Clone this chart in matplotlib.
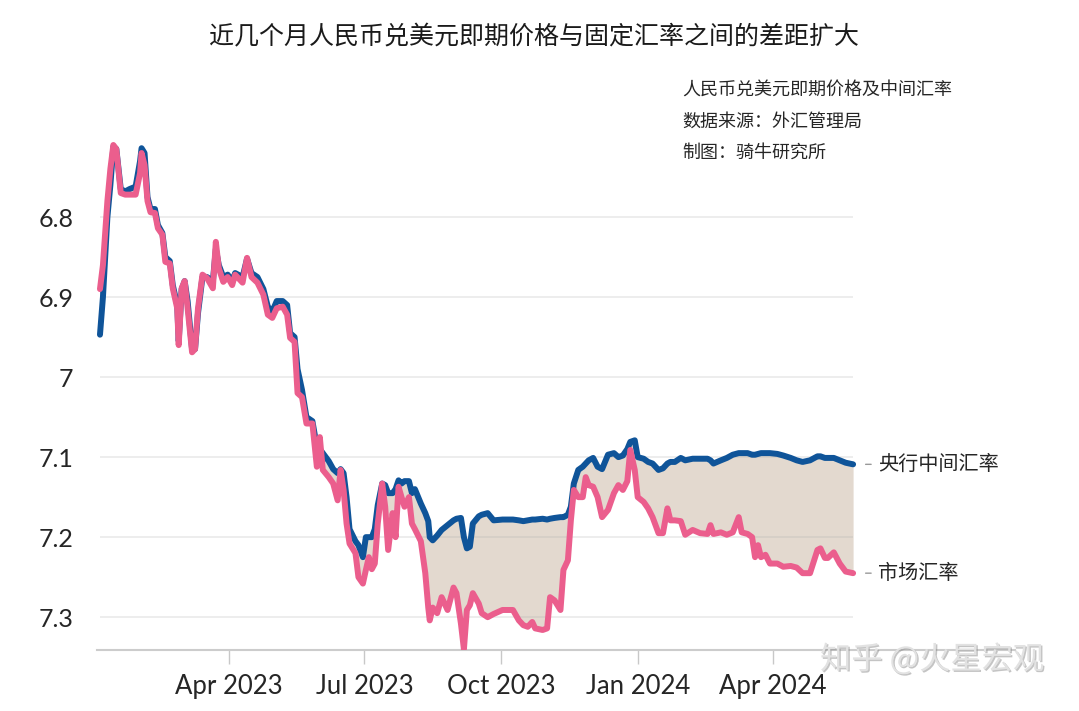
import pandas as pd
import matplotlib
matplotlib.use("Agg")
import matplotlib.pyplot as plt
import matplotlib.dates as mdates
import matplotlib.patheffects as pe

plt.rcParams['font.family'] = ['Lato', 'Noto Sans CJK SC', 'DejaVu Sans']

# data (USD/CNY)
dates = [
    "2023-01-04", "2023-01-06", "2023-01-09", "2023-01-11", "2023-01-13", "2023-01-15",
    "2023-01-18", "2023-01-21", "2023-01-24", "2023-01-28", "2023-01-31", "2023-02-01",
    "2023-02-03", "2023-02-05", "2023-02-07", "2023-02-10", "2023-02-12", "2023-02-15",
    "2023-02-17", "2023-02-20", "2023-02-22", "2023-02-25", "2023-02-26", "2023-02-28",
    "2023-03-02", "2023-03-04", "2023-03-07", "2023-03-09", "2023-03-11", "2023-03-14",
    "2023-03-17", "2023-03-21", "2023-03-23", "2023-03-25", "2023-03-28", "2023-03-31",
    "2023-04-03", "2023-04-05", "2023-04-10", "2023-04-13", "2023-04-16", "2023-04-20",
    "2023-04-24", "2023-04-27", "2023-04-30", "2023-05-03", "2023-05-07", "2023-05-10",
    "2023-05-12", "2023-05-15", "2023-05-17", "2023-05-20", "2023-05-23", "2023-05-27",
    "2023-05-30", "2023-06-01", "2023-06-03", "2023-06-07", "2023-06-10", "2023-06-13",
    "2023-06-15", "2023-06-17", "2023-06-19", "2023-06-21", "2023-06-25", "2023-06-27",
    "2023-06-30", "2023-07-02", "2023-07-04", "2023-07-06", "2023-07-08", "2023-07-10",
    "2023-07-13", "2023-07-15", "2023-07-17", "2023-07-20", "2023-07-22", "2023-07-24",
    "2023-07-26", "2023-07-28", "2023-07-31", "2023-08-02", "2023-08-04", "2023-08-08",
    "2023-08-11", "2023-08-13", "2023-08-14", "2023-08-16", "2023-08-19", "2023-08-22",
    "2023-08-26", "2023-08-30", "2023-09-01", "2023-09-04", "2023-09-06", "2023-09-08",
    "2023-09-10", "2023-09-12", "2023-09-16", "2023-09-18", "2023-09-22", "2023-09-26",
    "2023-10-02", "2023-10-09", "2023-10-13", "2023-10-16", "2023-10-19", "2023-10-22",
    "2023-10-24", "2023-10-29", "2023-11-01", "2023-11-03", "2023-11-06", "2023-11-10",
    "2023-11-12", "2023-11-15", "2023-11-17", "2023-11-19", "2023-11-22", "2023-11-25",
    "2023-11-27", "2023-11-29", "2023-12-02", "2023-12-05", "2023-12-08", "2023-12-12",
    "2023-12-16", "2023-12-19", "2023-12-22", "2023-12-25", "2023-12-27", "2023-12-30",
    "2024-01-01", "2024-01-05", "2024-01-08", "2024-01-11", "2024-01-15", "2024-01-18",
    "2024-01-21", "2024-01-23", "2024-01-26", "2024-01-30", "2024-02-02", "2024-02-07",
    "2024-02-12", "2024-02-17", "2024-02-19", "2024-02-21", "2024-02-26", "2024-03-01",
    "2024-03-05", "2024-03-09", "2024-03-11", "2024-03-15", "2024-03-18", "2024-03-20",
    "2024-03-22", "2024-03-24", "2024-03-27", "2024-03-30", "2024-04-04", "2024-04-08",
    "2024-04-13", "2024-04-17", "2024-04-21", "2024-04-26", "2024-05-01", "2024-05-03",
    "2024-05-06", "2024-05-08", "2024-05-12", "2024-05-16", "2024-05-20", "2024-05-25",
]

central_rate = [
    6.947, 6.900, 6.800, 6.760, 6.712, 6.715,
    6.765, 6.768, 6.765, 6.762, 6.730, 6.714,
    6.720, 6.775, 6.790, 6.790, 6.810, 6.820,
    6.850, 6.855, 6.885, 6.910, 6.955, 6.890,
    6.880, 6.905, 6.965, 6.965, 6.920, 6.875,
    6.875, 6.880, 6.840, 6.860, 6.875, 6.872,
    6.880, 6.870, 6.875, 6.852, 6.870, 6.875,
    6.890, 6.912, 6.918, 6.905, 6.905, 6.910,
    6.945, 6.950, 6.990, 7.016, 7.050, 7.055,
    7.087, 7.090, 7.095, 7.105, 7.115, 7.120,
    7.115, 7.120, 7.150, 7.190, 7.205, 7.210,
    7.225, 7.200, 7.200, 7.200, 7.190, 7.160,
    7.133, 7.135, 7.145, 7.145, 7.140, 7.129,
    7.133, 7.130, 7.130, 7.145, 7.140, 7.158,
    7.170, 7.180, 7.200, 7.204, 7.198, 7.191,
    7.185, 7.179, 7.177, 7.176, 7.200, 7.214,
    7.212, 7.183, 7.174, 7.172, 7.170, 7.179,
    7.178, 7.178, 7.179, 7.180, 7.179, 7.178,
    7.178, 7.177, 7.178, 7.177, 7.176, 7.175,
    7.175, 7.172, 7.162, 7.133, 7.116, 7.112,
    7.108, 7.104, 7.101, 7.112, 7.115, 7.097,
    7.095, 7.100, 7.098, 7.090, 7.081, 7.079,
    7.100, 7.102, 7.106, 7.108, 7.116, 7.114,
    7.108, 7.106, 7.106, 7.101, 7.104, 7.102,
    7.102, 7.102, 7.104, 7.108, 7.104, 7.101,
    7.097, 7.095, 7.095, 7.095, 7.097, 7.097,
    7.096, 7.095, 7.095, 7.095, 7.096, 7.098,
    7.101, 7.104, 7.106, 7.104, 7.099, 7.099,
    7.101, 7.101, 7.101, 7.104, 7.107, 7.109,
]

market_rate = [
    6.890, 6.860, 6.780, 6.740, 6.710, 6.715,
    6.770, 6.772, 6.772, 6.772, 6.745, 6.720,
    6.735, 6.780, 6.794, 6.795, 6.814, 6.822,
    6.856, 6.858, 6.889, 6.914, 6.960, 6.889,
    6.880, 6.914, 6.969, 6.965, 6.914, 6.872,
    6.876, 6.889, 6.831, 6.864, 6.881, 6.875,
    6.885, 6.872, 6.882, 6.851, 6.875, 6.882,
    6.897, 6.922, 6.926, 6.914, 6.912, 6.922,
    6.951, 6.956, 7.020, 7.025, 7.058, 7.058,
    7.112, 7.075, 7.116, 7.125, 7.133, 7.154,
    7.116, 7.141, 7.183, 7.208, 7.220, 7.250,
    7.258, 7.241, 7.225, 7.240, 7.233, 7.183,
    7.133, 7.162, 7.216, 7.170, 7.200, 7.137,
    7.150, 7.162, 7.150, 7.183, 7.190, 7.205,
    7.245, 7.288, 7.304, 7.288, 7.295, 7.275,
    7.291, 7.263, 7.270, 7.308, 7.340, 7.291,
    7.285, 7.270, 7.283, 7.295, 7.300, 7.296,
    7.291, 7.291, 7.304, 7.310, 7.312, 7.306,
    7.314, 7.316, 7.314, 7.275, 7.279, 7.291,
    7.241, 7.229, 7.179, 7.141, 7.150, 7.150,
    7.125, 7.135, 7.137, 7.150, 7.175, 7.166,
    7.145, 7.135, 7.141, 7.130, 7.091, 7.116,
    7.150, 7.156, 7.164, 7.175, 7.195, 7.195,
    7.164, 7.179, 7.179, 7.180, 7.197, 7.191,
    7.195, 7.196, 7.185, 7.196, 7.194, 7.197,
    7.194, 7.175, 7.194, 7.196, 7.200, 7.225,
    7.210, 7.225, 7.222, 7.233, 7.233, 7.237,
    7.236, 7.238, 7.245, 7.245, 7.216, 7.214,
    7.226, 7.226, 7.219, 7.233, 7.243, 7.245,
]

y_ticks = [6.8, 6.9, 7.0, 7.1, 7.2, 7.3]
y_tick_labels = ["6.8", "6.9", "7", "7.1", "7.2", "7.3"]
x_ticks = ["2023-04-01", "2023-07-01", "2023-10-01", "2024-01-01", "2024-04-01"]

title = "近几个月人民币兑美元即期价格与固定汇率之间的差距扩大"
notes = ["人民币兑美元即期价格及中间汇率", "数据来源：外汇管理局", "制图：骑牛研究所"]

blue = "#0f5499"
pink = "#eb5e8d"
fill_color = "#e3d9cf"
text_color = "#262626"
cjk = ['Noto Sans CJK SC', 'DejaVu Sans']

x = pd.to_datetime(dates)

fig = plt.figure(figsize=(10.79, 7.11), dpi=100)
ax = fig.add_axes([0.0899, 0.0858, 0.8508, 0.7215])

ax.fill_between(x, central_rate, market_rate, color=fill_color, lw=0, zorder=1)
ax.hlines(y_ticks, x[0], x[-1], colors="#a9a9a9", alpha=0.25, lw=1.2, zorder=2)
ax.plot(x, central_rate, color=blue, lw=4.3, solid_joinstyle="round",
        solid_capstyle="round", zorder=3)
ax.plot(x, market_rate, color=pink, lw=4.3, solid_joinstyle="round",
        solid_capstyle="round", zorder=4)

ax.set_ylim(7.341, 6.70)
ax.set_xlim(pd.Timestamp("2023-01-02"), pd.Timestamp("2024-09-11"))

ax.set_yticks(y_ticks)
ax.set_yticklabels(y_tick_labels)
ax.set_xticks(pd.to_datetime(x_ticks))
ax.xaxis.set_major_formatter(mdates.DateFormatter("%b %Y"))
ax.tick_params(axis="y", length=0, pad=17, labelsize=18, labelcolor=text_color)
ax.tick_params(axis="x", length=10, width=1, color="#c8c8c8", pad=7,
               labelsize=18.5, labelcolor=text_color)

for side in ["top", "right", "left"]:
    ax.spines[side].set_visible(False)
ax.spines["bottom"].set_color("#cccccc")
ax.spines["bottom"].set_linewidth(1.5)

# end labels
for val, label in [(central_rate[-1], "央行中间汇率"), (market_rate[-1], "市场汇率")]:
    ax.annotate(label, xy=(x[-1], val), xytext=(18, 0), textcoords="offset points",
                ha="left", va="center", fontsize=14.5, color=text_color, family=cjk,
                arrowprops=dict(arrowstyle="-", color="#999999", lw=1,
                                shrinkA=3, shrinkB=9))

fig.text(0.495, 0.947, title, ha="center", va="center", fontsize=18,
         color="#1a1a1a", family=cjk, weight="medium")
for yy, note in zip([0.8734, 0.8284, 0.7848], notes):
    fig.text(0.632, yy, note, ha="left", va="center", fontsize=13,
             color=text_color, family=cjk)

fig.text(0.760, 0.072, "知乎 @火星宏观", ha="left", va="center", fontsize=22.5,
         color="#e2e2e2", family=cjk,
         path_effects=[pe.withSimplePatchShadow(offset=(1, -1), shadow_rgbFace="#8a8a8a", alpha=0.5)])

fig.savefig("out.png", dpi=100)
